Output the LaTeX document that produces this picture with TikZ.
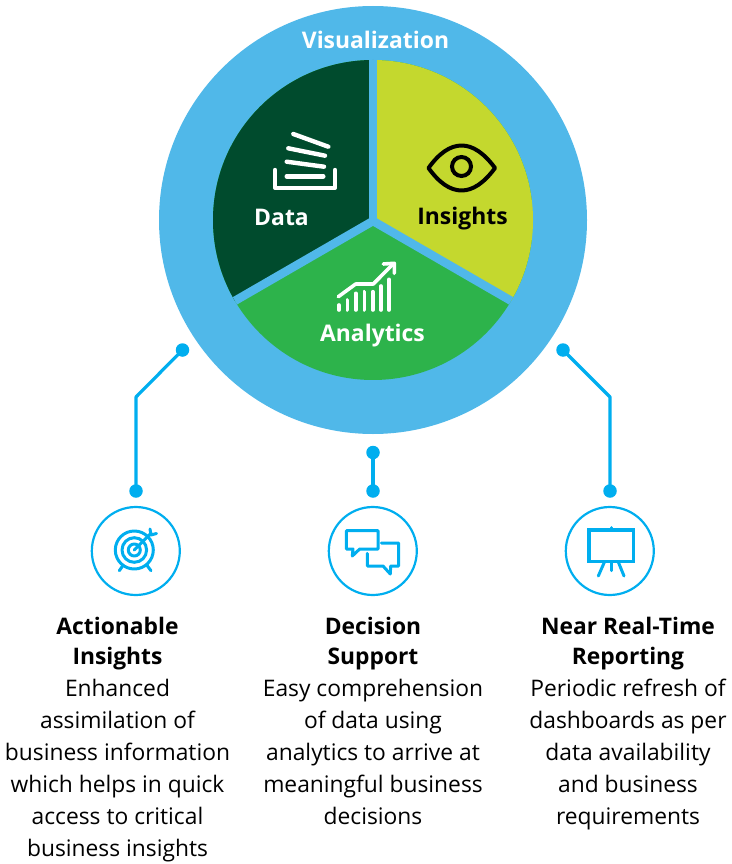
\documentclass[tikz,border=0pt]{standalone}
\usepackage{fontspec}
\setmainfont{Open Sans}
\definecolor{ringblue}{HTML}{50B8E9}
\definecolor{darkgr}{HTML}{004B2D}
\definecolor{limegr}{HTML}{C4D82E}
\definecolor{midgr}{HTML}{2DB34B}
\definecolor{cyanl}{HTML}{00AEEF}
\tikzset{
  wicon/.style={draw=white,line width=4.4pt,line cap=round,line join=round},
  cicon/.style={draw=cyanl,line width=3pt,line cap=round,line join=round},
  gap/.style={draw=ringblue,line width=8.5pt},
  dotn/.style={circle,fill=cyanl,inner sep=0pt,minimum size=13.5pt},
  iconring/.style={circle,draw=cyanl,line width=2.2pt,inner sep=0pt,minimum size=88pt},
  link/.style={draw=cyanl,line width=3.2pt,line join=round},
  seclabel/.style={font=\fontsize{22.9}{26}\selectfont\bfseries,inner sep=0pt},
  caption/.style={align=center,anchor=base,inner sep=0pt,font=\fontsize{22.8}{32}\selectfont},
}
\begin{document}
\begin{tikzpicture}[x=1pt,y=-1pt]
\useasboundingbox (0,0) rectangle (731,864);
% ring and pie
\fill[ringblue] (373,220) circle[radius=214];
\begin{scope}
\clip (373,220) circle[radius=160];
\fill[midgr] (213,60) rectangle (533,380);
\fill[darkgr] (373,221) -- (373,50) -- (200,50) -- (200,321) -- cycle;
\fill[limegr] (373,221) -- (373,50) -- (546,50) -- (546,321) -- cycle;
\draw[gap] (373,221) -- (373,50);
\draw[gap] (373,221) -- (200,321);
\draw[gap] (373,221) -- (546,321);
\end{scope}
% data icon
\draw[wicon] (293.3,134) -- (328.3,146.7);
\draw[wicon] (288.3,148.3) -- (325,155.7);
\draw[wicon] (286.7,161.7) -- (324,166.7);
\draw[wicon] (286.7,176.3) -- (323.3,176.3);
\draw[wicon] (275,170) -- (275,187.7) -- (335,187.7) -- (335,170);
% eye icon
\draw[black,line width=4pt,line join=round] (428.5,168) .. controls (450,138) and (473,138) .. (495,168) .. controls (473,198) and (450,198) .. cycle;
\draw[black,line width=4pt] (461.5,166.5) circle[radius=9.5];
% chart icon
\foreach \x/\t in {339/305,347.3/300,355.7/293.3,364.3/291.7,372.7/291.7,381/286,389/279.3}
  \draw[draw=white,line width=3.6pt,line cap=round] (\x,\t) -- (\x,310);
\draw[wicon,line width=3.6pt] (338.3,296.7) -- (355.7,284) -- (373.3,284) -- (393,264);
\draw[wicon,line width=3.6pt] (383.3,264) -- (394.3,263.3) -- (394.3,273.3);
% labels
\node[seclabel,text=white] (vis) at (375.5,40) {Visualization};
\node[seclabel,text=white] (data) at (281.5,217) {Data};
\node[seclabel,text=black] (ins) at (462.5,218.5) {Insights};
\node[seclabel,text=white] (ana) at (372.5,335.5) {Analytics};
% dots
\node[dotn] (d1) at (182.5,350) {};
\node[dotn] (d2) at (373,452.5) {};
\node[dotn] (d3) at (563,350) {};
\node[dotn] (e1) at (136,491) {};
\node[dotn] (e2) at (373,491) {};
\node[dotn] (e3) at (610,491) {};
\coordinate (k1) at (136,397);
\coordinate (k3) at (610,397);
\draw[link] (d1.center) -- (k1) -- (e1.center);
\draw[link] (d2.center) -- (e2.center);
\draw[link] (d3.center) -- (k3) -- (e3.center);
% icon rings
\node[iconring] (r1) at (135.8,551) {};
\node[iconring] (r2) at (372.8,551) {};
\node[iconring] (r3) at (609.8,551) {};
% target
\draw[cicon] (134.3,550) circle[radius=19];
\draw[cicon] (134.3,550) circle[radius=12.3];
\draw[cicon] (134.3,550) circle[radius=6];
\draw[cicon] (134.3,550) -- (151,533.3);
\draw[cicon] (150,529) -- (151,535) -- (156.5,533.5);
\draw[cicon] (119.3,570.7) -- (123.3,565);
\draw[cicon] (151,570.7) -- (146.7,565);
% chat
\draw[cicon] (346.3,530.7) -- (378,530.7) -- (378,549) -- (359.7,549) -- (352.3,556) -- (353,549) -- (346.3,549) -- cycle;
\draw[cicon] (381.3,543) -- (398.7,543) -- (398.7,566) -- (390.7,566) -- (390.3,574) -- (383,566) -- (367.3,566) -- (367.3,553.3);
% board
\draw[cicon,line width=3.2pt,line join=miter] (589,530) rectangle (633.7,561.3);
\draw[cicon] (611,527.7) -- (611,529);
\draw[cicon] (604.3,562.3) -- (598.3,576);
\draw[cicon] (611,562) -- (611,570.7);
\draw[cicon] (618.3,562) -- (624,576);
% captions
\node[caption] (c1) at (117.5,856) {\textbf{Actionable}\\[-2pt]\textbf{Insights}\\Enhanced\\assimilation of\\business information\\which helps in quick\\access to critical\\business insights};
\node[caption] (c2) at (373,824) {\textbf{Decision}\\[-2pt]\textbf{Support}\\Easy comprehension\\of data using\\analytics to arrive at\\meaningful business\\decisions};
\node[caption] (c3) at (628,824) {\textbf{Near Real-Time}\\[-2pt]\textbf{Reporting}\\Periodic refresh of\\dashboards as per\\data availability\\and business\\requirements};
\end{tikzpicture}
\end{document}
